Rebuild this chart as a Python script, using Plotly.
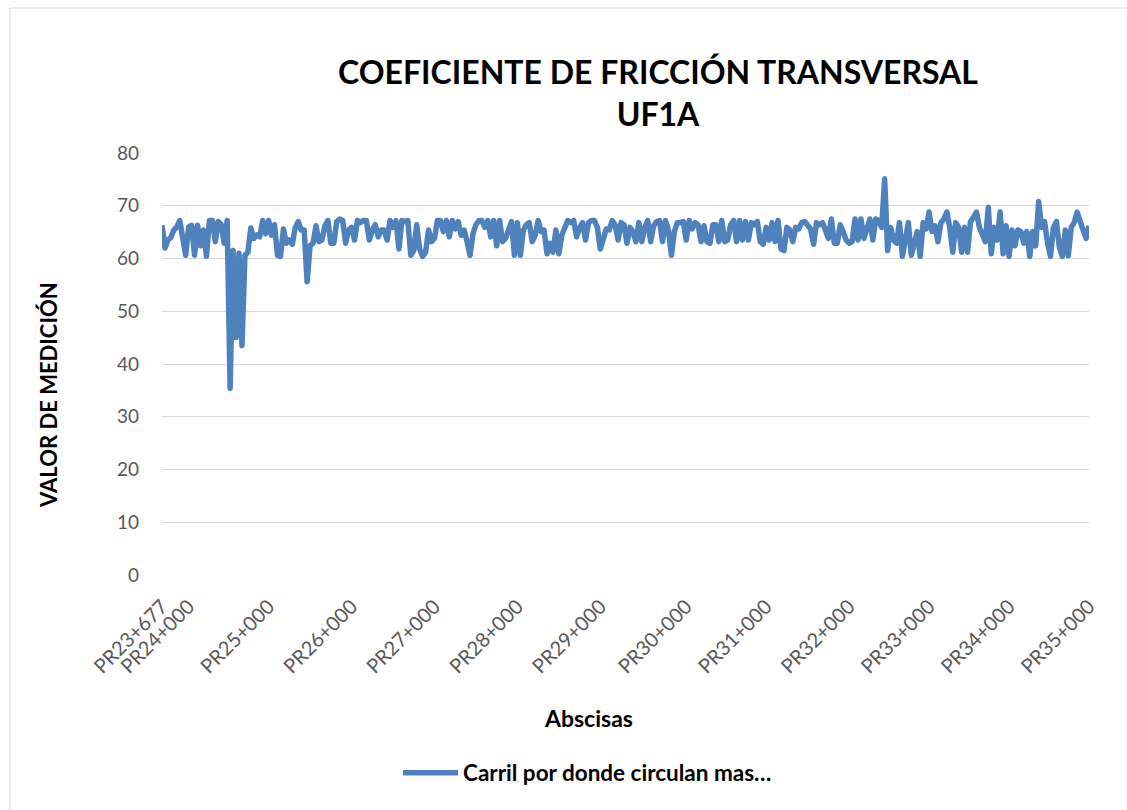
import plotly.graph_objects as go

# Coeficiente de fricción transversal, UF1A, medido a lo largo del carril
cft_tramo1 = [66.3, 62.0, 63.5, 64.0, 65.4, 66.0, 67.2, 63.5, 60.6, 66.0,
              66.3, 60.6, 66.3, 62.4, 65.4, 60.4, 67.2, 67.2, 63.2, 67.0,
              66.4, 62.9, 67.2, 35.4, 61.5, 45.0, 61.0, 43.5, 60.6, 61.2,
              65.8, 63.8, 64.5, 64.1, 67.2, 64.7, 67.2, 64.4, 66.4, 60.6,
              60.4, 65.6, 62.9, 63.5, 62.7, 65.9, 67.0, 65.4, 65.4, 55.6,
              62.4, 62.9, 66.2, 63.2, 63.5, 66.2, 67.2, 62.9, 62.9, 67.0,
              67.5]
cft_tramo2 = [67.2, 62.9, 65.4, 65.9, 63.5, 67.2, 66.8, 67.2, 67.2, 63.5,
              65.4, 66.4, 64.1, 65.4, 65.4, 63.5, 67.2, 65.9, 67.2, 61.8,
              67.2, 67.0, 67.2, 60.6, 61.5, 66.4, 61.8, 60.4, 61.2, 65.4,
              63.2, 63.8, 67.2, 67.2, 65.1, 67.2, 64.1, 67.2, 65.6, 67.0,
              64.4, 65.4, 63.2, 60.6, 64.7, 66.4, 67.2, 67.2, 65.9, 67.2,
              64.1, 67.2, 62.4, 67.2, 63.2, 63.8, 65.4, 67.0, 60.6, 66.8,
              60.6, 65.4, 66.4, 66.8, 63.2, 64.4, 67.2, 65.1, 65.4, 60.9,
              62.9, 61.2, 65.4, 60.9, 64.4, 65.9, 67.2, 66.8, 67.2, 64.1,
              65.9, 66.8, 63.5]
cft_tramo3 = [66.8, 67.2, 67.2, 65.9, 61.8, 64.1, 65.6, 65.4, 67.2, 66.4,
              63.5, 66.8, 66.4, 62.9, 65.9, 65.1, 63.2, 66.8, 63.2, 65.9,
              67.2, 63.2, 66.2, 67.0, 67.2, 63.2, 67.2, 65.4, 60.6, 65.1,
              66.8, 66.8, 67.0, 63.5, 67.2, 65.6, 66.8, 66.4, 63.2, 66.2,
              63.2, 62.9, 66.4, 66.4, 63.2, 67.2, 63.2, 63.5, 66.4, 67.2,
              63.2, 67.2, 63.5, 67.0, 63.5, 66.8, 66.4, 67.0, 63.2, 62.7,
              65.9, 63.5, 66.8, 63.2, 67.2, 61.8, 61.5, 65.9, 65.4, 63.2,
              65.9, 65.6, 66.8, 67.0, 66.4, 65.6, 62.7, 66.8, 66.4, 66.8,
              65.4]
cft_tramo4 = [63.8, 67.5, 62.9, 62.9, 66.4, 65.1, 63.5, 62.9, 63.2, 67.5,
              63.5, 67.5, 63.8, 65.6, 67.5, 63.5, 67.5, 67.2, 65.9, 75.1,
              61.5, 65.9, 63.5, 62.9, 66.8, 60.4, 63.2, 66.8, 60.6, 63.2,
              65.1, 60.4, 66.8, 65.6, 68.8, 65.1, 66.2, 63.2, 66.8, 67.5,
              68.8, 65.9, 61.2, 66.8, 65.9, 61.2, 65.9, 61.2, 67.0, 67.8,
              68.8, 65.9, 64.4, 63.2, 69.7, 60.9, 65.9, 63.5, 68.8, 60.9,
              66.2, 60.4, 65.4, 62.4, 65.4, 65.1, 62.9, 65.1, 60.4, 65.1,
              62.4, 70.8, 65.9, 67.0, 62.9, 60.4, 65.9, 67.0, 62.1, 60.4,
              65.4, 60.5, 65.9, 66.8, 68.8, 66.8, 65.4, 63.8, 66.2]

cft = cft_tramo1 + cft_tramo2 + cft_tramo3 + cft_tramo4
muestra = list(range(len(cft)))

# Abscisas (PR) y número de muestra en que se ubican
abscisas = ["PR23+677", "PR24+000", "PR25+000", "PR26+000", "PR27+000",
            "PR28+000", "PR29+000", "PR30+000", "PR31+000", "PR32+000",
            "PR33+000", "PR34+000", "PR35+000"]
abscisa_muestra = [0, 9, 36, 64, 92, 120, 148, 177, 204, 232, 259, 286,
                   len(cft) - 1]

y_ticks = [0, 10, 20, 30, 40, 50, 60, 70, 80]

W, H = 1127, 810
ML, MR, MT, MB = 162, 38, 153, 235
PW, PH = W - ML - MR, H - MT - MB

FONT = "Lato, 'Open Sans', sans-serif"
AZUL = "#4f81bd"
GRIS = "#595959"
REJILLA = "#d9d9d9"


def px_x(p):
    return (p - ML) / PW


def px_y(p):
    return (H - MB - p) / PH


fig = go.Figure()
fig.add_trace(go.Scatter(
    x=muestra, y=cft, mode="lines",
    name="Carril por donde circulan mas…",
    line=dict(color=AZUL, width=5.5),
))

fig.update_layout(
    width=W, height=H,
    margin=dict(l=ML, r=MR, t=MT, b=MB, pad=0),
    paper_bgcolor="white", plot_bgcolor="white",
    font=dict(family=FONT, color=GRIS),
    title=dict(
        text="COEFICIENTE DE FRICCIÓN TRANSVERSAL<br>UF1A",
        font=dict(family=FONT, size=32, color="black", weight="bold"),
        x=658 / W, xanchor="center", xref="container",
        y=1 - 84 / H, yanchor="middle", yref="container",
    ),
    xaxis=dict(
        range=[0, len(cft) - 1],
        tickmode="array", tickvals=abscisa_muestra, ticktext=abscisas,
        tickangle=-45, tickfont=dict(size=20, color=GRIS),
        ticklabelstandoff=15,
        showgrid=False, zeroline=False,
        showline=False, ticks="",
    ),
    yaxis=dict(
        range=[0, 80], tickmode="array", tickvals=y_ticks,
        tickfont=dict(size=19, color=GRIS),
        showgrid=True, gridcolor=REJILLA, gridwidth=1,
        zeroline=False, showline=False, ticks="",
        ticklabelstandoff=22,
    ),
    legend=dict(
        orientation="h", x=px_x(398), xanchor="left",
        y=px_y(773), yanchor="middle", itemwidth=55,
        font=dict(size=22.5, color="black", weight="bold"),
        bgcolor="rgba(0,0,0,0)",
    ),
    showlegend=True,
    annotations=[
        dict(text="<b>VALOR DE MEDICIÓN</b>", textangle=-90,
             xref="paper", yref="paper", x=px_x(48), y=px_y(395),
             xanchor="center", yanchor="middle", showarrow=False,
             font=dict(size=22, color="black")),
        dict(text="<b>Abscisas</b>",
             xref="paper", yref="paper", x=px_x(588), y=px_y(718),
             xanchor="center", yanchor="middle", showarrow=False,
             font=dict(size=23, color="black")),
    ],
    # chart-area frame (top and left edges fall inside the page)
    shapes=[
        dict(type="line", xref="paper", yref="paper",
             x0=px_x(10), x1=px_x(W), y0=px_y(8), y1=px_y(8),
             line=dict(color=REJILLA, width=1), layer="below"),
        dict(type="line", xref="paper", yref="paper",
             x0=px_x(10), x1=px_x(10), y0=px_y(8), y1=px_y(H),
             line=dict(color=REJILLA, width=1), layer="below"),
    ],
)

fig.write_html(
    "out.html",
    post_script=(
        "document.querySelectorAll('.scatterlayer .js-line')"
        ".forEach(function(p){p.style.strokeLinejoin='round';});"
    ),
)
